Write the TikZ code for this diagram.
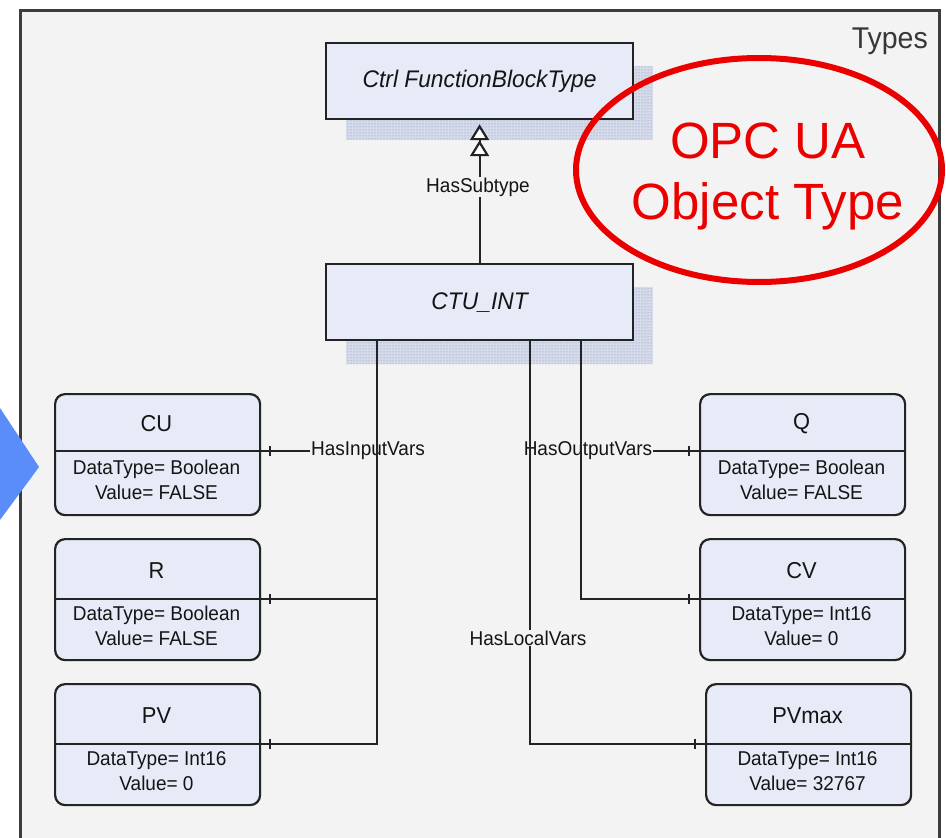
\documentclass[tikz,border=0pt]{standalone}
\usepackage{fontspec}
\setmainfont{Liberation Sans}
\newfontfamily\cf[FakeStretch=0.95]{Liberation Sans}
\usetikzlibrary{arrows.meta,patterns}

\definecolor{bgc}{RGB}{243,243,243}
\definecolor{framec}{RGB}{60,60,60}
\definecolor{boxc}{RGB}{231,235,248}
\definecolor{edgec}{RGB}{35,35,35}
\definecolor{shdot}{RGB}{120,138,185}
\definecolor{shfill}{RGB}{214,219,234}
\definecolor{redc}{RGB}{235,0,0}
\definecolor{bluec}{RGB}{90,140,250}
\definecolor{txtc}{RGB}{20,20,20}

\tikzset{
  typebox/.style={draw=edgec, line width=2.2pt, fill=boxc, minimum width=307pt,
    minimum height=76pt, inner sep=0pt, text=txtc,
    font=\cf\itshape\fontsize{24}{28}\selectfont},
  shadowbox/.style={preaction={fill=shfill}, pattern=dots, pattern color=shdot},
  vbox/.style={draw=edgec, line width=2.2pt, fill=boxc, rounded corners=10pt,
    minimum width=205pt, minimum height=121pt, inner sep=0pt},
  divider/.style={draw=edgec, line width=2.2pt},
  vtitle/.style={text=txtc, inner sep=0pt, font=\cf\fontsize{23}{27}\selectfont},
  vbody/.style={text=txtc, inner sep=0pt, align=center,
    font=\cf\fontsize{20}{25}\selectfont},
  conn/.style={draw=edgec, line width=2.2pt},
  tick/.style={draw=edgec, line width=1.5pt},
  rel/.style={text=txtc, inner sep=1pt, fill=bgc, font=\cf\fontsize{20}{24}\selectfont},
  subtip/.style={-{Triangle[open,fill=white,width=19pt,length=16pt]
                   Triangle[open,fill=white,width=19pt,length=16pt,sep=4pt]}},
}

% variable node: name, left x, top y, divider y, title, type line, value line
\newcommand{\varnode}[7]{%
  \node[vbox, anchor=north west] (#1) at (#2,#3) {};
  \draw[divider] (#1.west |- 0,#4) coordinate (#1-dw) -- (#1.east |- 0,#4) coordinate (#1-de);
  \node[vtitle] (#1-t) at ({#2+102.5},{(#3+#4)/2+2}) {#5};
  \node[vbody] (#1-b) at ({#2+102.5},{(#4+#3+121)/2-3}) {#6\\#7};
}

\begin{document}
\begin{tikzpicture}[x=1pt, y=-1pt]
  \clip (0,0) rectangle (946,838);
  \fill[white] (0,0) rectangle (946,838);

  % frame of the types area
  \draw[draw=framec, fill=bgc, line width=3pt] (20,10) rectangle (939,870);
  \node[anchor=base east, inner sep=0pt, text=txtc!85!white,
        font=\cf\fontsize{30}{34}\selectfont] (types) at (928,48) {Types};

  % type nodes with shadows
  \fill[shadowbox] (346,66) rectangle (653,140);
  \node[typebox, anchor=north west] (fb) at (325,42) {Ctrl FunctionBlockType};
  \fill[shadowbox] (346,287) rectangle (653,364);
  \node[typebox, anchor=north west] (ctu) at (325,263) {CTU\_INT};

  % subtype relation
  \draw[conn, subtip] (ctu.north) -- (fb.south);
  \node[rel] (lsub) at (478,187) {HasSubtype};

  % input variables
  \varnode{cu}{54}{393}{451}{CU}{DataType= Boolean}{Value= FALSE}
  \varnode{r}{54}{538}{599}{R}{DataType= Boolean}{Value= FALSE}
  \varnode{pv}{54}{683}{744}{PV}{DataType= Int16}{Value= 0}

  % output and local variables
  \varnode{q}{699}{393}{451}{Q}{DataType= Boolean}{Value= FALSE}
  \varnode{cv}{699}{538}{599}{CV}{DataType= Int16}{Value= 0}
  \varnode{pvm}{705}{683}{744}{PVmax}{DataType= Int16}{Value= 32767}

  % junction points of the three trunks
  \coordinate (inJ) at (377,744);
  \coordinate (outJ) at (581,599);
  \coordinate (locJ) at (530,744);

  % HasInputVars
  \draw[conn] (inJ |- cu-de) -- (cu-de);
  \draw[conn] (inJ |- r-de) -- (r-de);
  \node[rel] (lin) at (368,451) {HasInputVars};
  \draw[conn] (ctu.south -| inJ) |- (pv-de);

  % HasOutputVars
  \draw[conn] (outJ |- q-dw) -- (q-dw);
  \node[rel] (lout) at (588,451) {HasOutputVars};
  \draw[conn] (ctu.south -| outJ) |- (cv-dw);

  % HasLocalVars
  \draw[conn] (ctu.south -| locJ) |- (pvm-dw);
  \node[rel] (lloc) at (528,638) {HasLocalVars};

  % ticks near the variable nodes
  \foreach \n in {cu,r,pv}
    \draw[tick] ([xshift=9pt]\n-de) ++(0,-5) -- ++(0,10);
  \foreach \n in {q,cv,pvm}
    \draw[tick] ([xshift=-10pt]\n-dw) ++(0,-5) -- ++(0,10);

  % highlight
  \draw[redc, line width=6pt] (759,170) ellipse [x radius=183, y radius=112];
  \node[text=redc, align=center, inner sep=0pt,
        font=\fontsize{51}{61}\selectfont] (otype) at (768,176) {OPC UA\\Object Type};

  % pointer
  \fill[bluec] (0,408) -- (39,467) -- (0,520) -- cycle;
\end{tikzpicture}
\end{document}
